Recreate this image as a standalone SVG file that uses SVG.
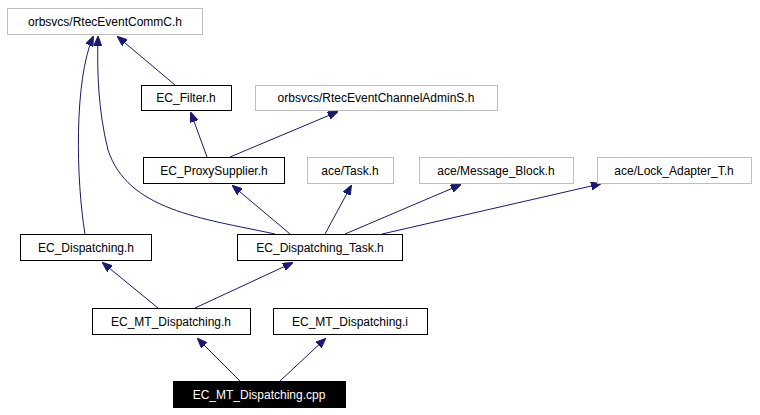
<svg xmlns="http://www.w3.org/2000/svg" width="760" height="415" viewBox="0 0 760 415">
<style>
.n rect{fill:#fff;stroke:#000;stroke-width:1}
.g rect{fill:#fff;stroke:#bfbfbf;stroke-width:1}
text{font-family:"Liberation Sans",Arial,sans-serif;font-size:12px;text-anchor:middle;fill:#000}
.e path{fill:none;stroke:#191970;stroke-width:1;marker-end:url(#a)}
</style>
<defs><marker id="a" markerWidth="10" markerHeight="8" refX="9" refY="4" orient="auto" markerUnits="userSpaceOnUse"><path d="M0,0 L10,4 L0,8 Z" fill="#191970" stroke="#191970"/></marker></defs>
<rect width="760" height="415" fill="#fff"/>
<g class="e">
<path d="M240,381 L198,339"/>
<path d="M280,381 L325,339"/>
<path d="M158,308 L103,263"/>
<path d="M195,308 L292,263"/>
<path d="M290,234 L233,186"/>
<path d="M325,234 L351,186"/>
<path d="M345,234 L460,185"/>
<path d="M382,234 L600,184"/>
<path d="M275,234 C200,218 128,210 108,150 C98,110 97,70 98,37"/>
<path d="M85,234 C76,180 74,80 93,37"/>
<path d="M207,157 L191,113"/>
<path d="M230,157 L337,112"/>
<path d="M175,85 L118,37"/>
</g>
<g id="commc" class="g"><rect x="7.5" y="8.5" width="195" height="26"/><text x="105" y="26">orbsvcs/RtecEventCommC.h</text></g>
<g id="filter" class="n"><rect x="141.5" y="85.5" width="90" height="25"/><text x="186" y="102">EC_Filter.h</text></g>
<g id="admins" class="g"><rect x="255.5" y="85.5" width="242" height="25"/><text x="376" y="102">orbsvcs/RtecEventChannelAdminS.h</text></g>
<g id="proxy" class="n"><rect x="143.5" y="157.5" width="141" height="26"/><text x="214" y="175">EC_ProxySupplier.h</text></g>
<g id="task" class="g"><rect x="307.5" y="157.5" width="86" height="26"/><text x="350" y="175">ace/Task.h</text></g>
<g id="mb" class="g"><rect x="419.5" y="157.5" width="154" height="26"/><text x="496" y="175">ace/Message_Block.h</text></g>
<g id="lock" class="g"><rect x="597.5" y="157.5" width="154" height="26"/><text x="674" y="175">ace/Lock_Adapter_T.h</text></g>
<g id="disp" class="n"><rect x="20.5" y="234.5" width="131" height="26"/><text x="86" y="252">EC_Dispatching.h</text></g>
<g id="dtask" class="n"><rect x="237.5" y="234.5" width="165" height="26"/><text x="320" y="252">EC_Dispatching_Task.h</text></g>
<g id="mth" class="n"><rect x="92.5" y="308.5" width="158" height="26"/><text x="171" y="326">EC_MT_Dispatching.h</text></g>
<g id="mti" class="n"><rect x="273.5" y="308.5" width="154" height="26"/><text x="350" y="326">EC_MT_Dispatching.i</text></g>
<g id="cpp"><rect x="173.5" y="381.5" width="172" height="26" fill="#000" stroke="#000"/><text x="259" y="399" style="fill:#fff">EC_MT_Dispatching.cpp</text></g>
</svg>
